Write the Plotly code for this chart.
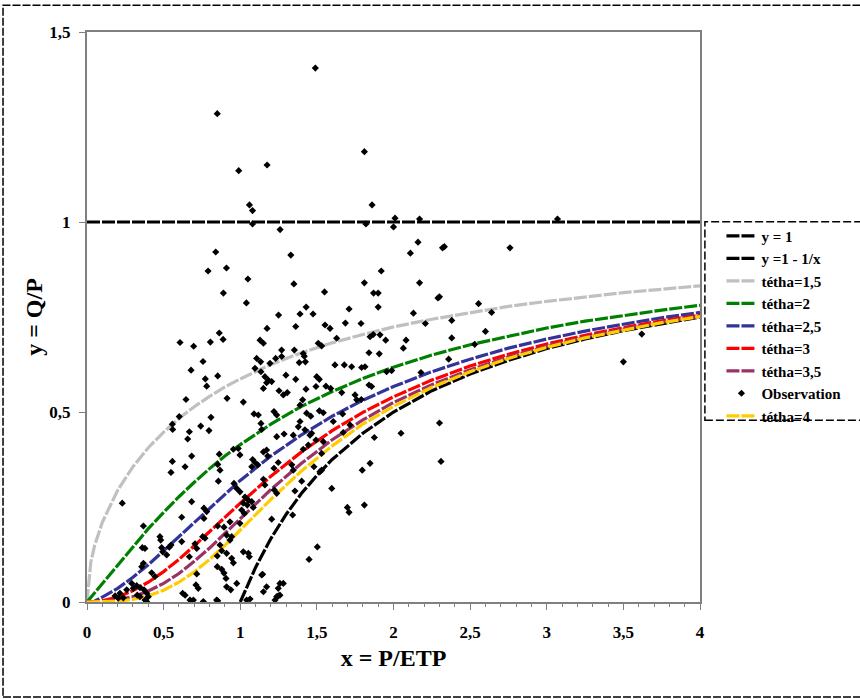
import plotly.graph_objects as go

# ---- curve data ----
x_theta = [0, 0.025, 0.05, 0.1, 0.2, 0.3, 0.4, 0.5, 0.6, 0.7, 0.8, 0.9, 1.0, 1.2, 1.4, 1.6, 1.8, 2.0,
           2.25, 2.5, 2.75, 3.0, 3.25, 3.5, 3.75, 4.0]
y_t15 = [0, 0.105, 0.149, 0.210, 0.294, 0.356, 0.406, 0.447, 0.483, 0.514, 0.541, 0.566, 0.587, 0.625,
         0.656, 0.682, 0.704, 0.724, 0.744, 0.762, 0.778, 0.791, 0.803, 0.814, 0.823, 0.832]
y_t2 = [0, 0.012, 0.025, 0.050, 0.099, 0.147, 0.193, 0.236, 0.277, 0.315, 0.351, 0.384, 0.414, 0.468,
        0.515, 0.554, 0.588, 0.618, 0.650, 0.677, 0.700, 0.721, 0.739, 0.754, 0.768, 0.781]
y_t25 = [0, 0.001, 0.002, 0.013, 0.036, 0.065, 0.098, 0.135, 0.172, 0.211, 0.248, 0.285, 0.320, 0.384,
         0.440, 0.489, 0.531, 0.567, 0.606, 0.639, 0.668, 0.692, 0.713, 0.731, 0.748, 0.762]
y_t3 = [0, 0.000, 0.001, 0.003, 0.013, 0.030, 0.052, 0.080, 0.112, 0.148, 0.185, 0.223, 0.260, 0.331,
        0.395, 0.451, 0.499, 0.540, 0.584, 0.621, 0.652, 0.679, 0.702, 0.722, 0.740, 0.755]
y_t35 = [0, 0.000, 0.000, 0.001, 0.005, 0.014, 0.029, 0.049, 0.075, 0.107, 0.142, 0.180, 0.219, 0.296,
         0.365, 0.427, 0.479, 0.525, 0.572, 0.611, 0.645, 0.673, 0.697, 0.718, 0.736, 0.752]
y_t4 = [0, 0.000, 0.000, 0.000, 0.002, 0.007, 0.016, 0.031, 0.052, 0.079, 0.112, 0.149, 0.189, 0.270,
        0.345, 0.411, 0.468, 0.515, 0.565, 0.606, 0.641, 0.670, 0.695, 0.716, 0.735, 0.751]

x_lim = [1.0, 1.1, 1.2, 1.3, 1.4, 1.5, 1.6, 1.8, 2.0, 2.25, 2.5, 2.75, 3.0, 3.25, 3.5, 3.75, 4.0]
y_lim = [0.0, 0.091, 0.167, 0.231, 0.286, 0.333, 0.375, 0.444, 0.5, 0.556, 0.6, 0.636, 0.667, 0.692,
         0.714, 0.733, 0.75]

x_one = [0, 4]
y_one = [1, 1]

obs_x = [0.85, 1.49, 0.99, 1.175, 1.81, 1.06, 1.08, 1.86, 2.01, 2.17, 1.08, 1.82, 1.26, 2.0, 2.16, 0.84,
         0.79, 0.91, 1.33, 2.11, 1.92, 1.05, 1.35, 1.81, 2.17, 0.89, 1.55, 1.87, 1.9, 2.3, 1.04, 1.43,
         1.71, 1.9, 1.25, 1.39, 1.475, 2.13,
         3.07, 2.32, 2.76, 2.29, 2.555, 2.64, 2.38, 2.38, 2.6, 2.53, 2.36, 3.62, 3.5, 2.3, 2.31,
         1.175, 0.607, 0.696, 0.805, 0.863, 0.888, 1.129, 1.151, 1.27, 0.757, 0.679, 1.107, 1.133, 1.231,
         1.27, 1.194, 1.096, 1.135, 1.161, 1.183, 1.205, 1.172, 1.298, 0.772, 0.853, 0.781, 1.151, 1.253,
         1.281, 1.307, 0.646, 0.914, 1.02, 0.602, 0.809, 1.09, 1.118, 1.22, 1.238,
         2.332, 1.686, 2.208, 1.362, 1.553, 1.586, 1.788, 1.847, 1.868, 1.912, 1.949, 1.629, 1.509, 1.531,
         2.082, 2.064, 1.353, 1.411, 1.418, 1.84, 1.907, 1.385, 1.425, 1.618, 1.679, 1.727, 1.792, 1.814,
         1.955, 1.988, 1.362, 1.499, 1.516, 2.179, 1.429, 1.494, 1.559, 1.59, 1.662, 1.84, 1.857, 1.407,
         1.39, 1.749, 1.76, 1.79, 1.516, 1.542, 1.433, 1.46, 1.668,
         0.557, 0.742, 0.796, 0.668, 0.559, 1.135, 1.14, 1.238, 1.286, 0.657, 0.955, 0.987, 0.998, 0.863,
         0.683, 1.172, 1.151, 1.179, 0.557, 0.548, 0.853, 0.868, 1.081, 1.096, 1.114, 1.075, 1.22, 1.248,
         0.857, 0.959, 0.977, 0.998, 1.151, 1.161, 1.222, 1.238, 1.031, 1.053, 1.02, 1.046, 1.075, 1.085,
         1.009, 1.027, 0.683, 0.763, 0.781, 0.763, 0.618, 0.368, 0.853, 0.894, 0.933, 0.998, 1.205, 0.476,
         0.481, 0.618, 0.755, 0.77, 0.911, 0.944, 0.933, 0.361, 0.378, 0.487, 0.494, 0.537, 0.548, 0.705,
         0.716, 0.868, 0.879, 0.85, 0.911, 0.668, 0.52, 0.944, 0.955, 1.02, 1.053, 1.059, 0.368, 0.357,
         0.422, 0.444, 0.716, 0.85, 0.879, 0.894, 0.907, 1.146, 1.281, 1.248, 0.292, 0.302, 0.324, 0.346,
         0.372, 0.39, 0.379, 0.328, 0.624, 0.64, 0.711, 0.726, 0.683, 0.694, 0.853, 0.938, 1.151, 1.172,
         1.227, 1.238, 0.759,
         0.23, 0.259, 0.215, 0.183, 0.204, 0.237, 0.346, 0.389, 0.4, 0.672, 0.846, 0.911, 0.977, 1.042,
         1.064, 1.14, 1.259, 1.248, 1.259, 0.64,
         2.049, 1.875, 1.847, 1.796, 1.597, 1.81, 1.699, 1.71, 1.342, 1.357, 1.401, 1.52, 1.531, 1.481,
         1.336, 1.346, 1.531, 1.542, 1.411, 1.444, 1.455, 1.494, 1.346, 1.379, 1.422, 1.466, 1.39, 1.607,
         1.672, 1.716, 1.503, 1.449]
obs_y = [1.285, 1.405, 1.135, 1.15, 1.185, 1.045, 1.03, 1.045, 1.01, 1.008, 0.995, 0.995, 0.98, 0.987,
         0.947, 0.921, 0.871, 0.879, 0.913, 0.918, 0.871, 0.85, 0.837, 0.84, 0.84, 0.813, 0.816, 0.813,
         0.813, 0.803, 0.787, 0.776, 0.771, 0.776, 0.755, 0.758, 0.758, 0.76,
         1.008, 0.932, 0.932, 0.80, 0.785, 0.762, 0.741, 0.695, 0.712, 0.678, 0.639, 0.705, 0.632, 0.471,
         0.37,
         0.72, 0.683, 0.673, 0.684, 0.708, 0.691, 0.689, 0.681, 0.663, 0.633, 0.61, 0.641, 0.632, 0.641,
         0.646, 0.628, 0.615, 0.606, 0.593, 0.584, 0.58, 0.577, 0.597, 0.587, 0.595, 0.568, 0.562, 0.556,
         0.545, 0.551, 0.533, 0.536, 0.526, 0.488, 0.486, 0.495, 0.492, 0.501, 0.492,
         0.935, 0.734, 0.733, 0.725, 0.729, 0.72, 0.733, 0.698, 0.704, 0.703, 0.689, 0.694, 0.681, 0.674,
         0.689, 0.668, 0.663, 0.654, 0.647, 0.656, 0.653, 0.63, 0.632, 0.624, 0.624, 0.619, 0.617, 0.619,
         0.606, 0.609, 0.586, 0.593, 0.586, 0.604, 0.56, 0.567, 0.568, 0.562, 0.551, 0.571, 0.567, 0.532,
         0.518, 0.545, 0.532, 0.533, 0.503, 0.498, 0.497, 0.489, 0.495,
         0.468, 0.463, 0.451, 0.448, 0.454, 0.47, 0.454, 0.435, 0.442, 0.429, 0.402, 0.404, 0.387, 0.389,
         0.384, 0.4, 0.395, 0.384, 0.37, 0.341, 0.362, 0.347, 0.375, 0.367, 0.361, 0.356, 0.352, 0.367,
         0.318, 0.312, 0.299, 0.29, 0.323, 0.308, 0.295, 0.286, 0.276, 0.268, 0.26, 0.255, 0.264, 0.249,
         0.242, 0.233, 0.264, 0.247, 0.238, 0.22, 0.223, 0.2, 0.2, 0.197, 0.211, 0.207, 0.218, 0.172,
         0.163, 0.159, 0.172, 0.168, 0.176, 0.172, 0.163, 0.143, 0.141, 0.143, 0.132, 0.144, 0.15, 0.153,
         0.141, 0.15, 0.135, 0.121, 0.128, 0.119, 0.124, 0.115, 0.103, 0.132, 0.128, 0.119, 0.102, 0.093,
         0.077, 0.067, 0.074, 0.093, 0.086, 0.076, 0.062, 0.073, 0.049, 0.036, 0.049, 0.036, 0.043, 0.038,
         0.032, 0.023, 0.005, 0.018, 0.023, 0.018, 0.045, 0.036, 0.001, 0.005, 0.003, 0.032, 0.027, 0.04,
         0.005, 0.014, 0.001,
         0.26, 0.032, 0.023, 0.016, 0.01, 0.011, 0.014, 0.001, 0.014, 0.005, 0.005, 0.04, 0.049, 0.005,
         0.008, 0.071, 0.049, 0.016, 0.018, 0.356,
         0.444, 0.433, 0.365, 0.347, 0.299, 0.255, 0.249, 0.236, 0.229, 0.292, 0.318, 0.343, 0.347, 0.356,
         0.361, 0.347, 0.391, 0.422, 0.402, 0.413, 0.439, 0.426, 0.439, 0.461, 0.453, 0.444, 0.475, 0.475,
         0.446, 0.466, 0.145, 0.112]

x_ticks = [0, 0.5, 1, 1.5, 2, 2.5, 3, 3.5, 4]
x_tick_text = ["0", "0,5", "1", "1,5", "2", "2,5", "3", "3,5", "4"]
y_ticks = [0, 0.5, 1, 1.5]
y_tick_text = ["0", "0,5", "1", "1,5"]

SERIF = "Liberation Serif, Times New Roman, serif"
DASH = "13px,2px"
LW = 3.2

fig = go.Figure()


def line(x, y, name, color, rank):
    fig.add_trace(go.Scatter(x=x, y=y, mode="lines", name=name, legendrank=rank,
                             line=dict(color=color, width=LW, dash=DASH)))


line(x_one, y_one, "y = 1", "#000000", 1)
line(x_lim, y_lim, "y =1 - 1/x", "#000000", 2)
line(x_theta, y_t15, "tétha=1,5", "#C0C0C0", 3)
line(x_theta, y_t2, "tétha=2", "#008000", 4)
line(x_theta, y_t25, "tétha=2,5", "#333399", 5)
line(x_theta, y_t3, "tétha=3", "#FF0000", 6)
line(x_theta, y_t35, "tétha=3,5", "#993366", 7)
line(x_theta, y_t4, "tétha=4", "#FFCC00", 9)
fig.add_trace(go.Scatter(x=obs_x, y=obs_y, mode="markers", name="Observation", legendrank=8,
                         marker=dict(symbol="diamond", size=5.5, color="#000000")))

axis_common = dict(showgrid=False, zeroline=False, showline=True, linecolor="#808080", linewidth=2,
                   mirror=True, ticks="outside", tickcolor="#808080", ticklen=6, tickwidth=1,
                   tickfont=dict(family=SERIF, size=17, color="#000000", weight="bold"))

fig.update_xaxes(range=[0, 4], tickvals=x_ticks, ticktext=x_tick_text, ticklabelstandoff=8,
                 minor=dict(dtick=0.1, ticks="outside", ticklen=3, tickcolor="#808080"),
                 title=dict(text="x = P/ETP", font=dict(family=SERIF, size=24, color="#000000",
                                                        weight="bold"), standoff=8),
                 **axis_common)
fig.update_yaxes(range=[0, 1.5], tickvals=y_ticks, ticktext=y_tick_text, ticklabelstandoff=5,
                 title=dict(text="y = Q/P", font=dict(family=SERIF, size=24, color="#000000",
                                                      weight="bold"), standoff=0),
                 **axis_common)

fig.update_layout(
    width=860, height=699, autosize=False,
    margin=dict(l=87, r=160, t=32, b=97, autoexpand=False),
    paper_bgcolor="white", plot_bgcolor="white",
    showlegend=True,
    legend=dict(x=1.035, y=0.671, xanchor="left", yanchor="top", bgcolor="rgba(0,0,0,0)",
                borderwidth=0, tracegroupgap=0,
                font=dict(family=SERIF, size=15, color="#000000", weight="bold")),
    shapes=[
        dict(type="rect", xref="paper", yref="paper", x0=-0.137, x1=1.45, y0=-0.1667, y1=1.047,
             line=dict(color="#000000", width=1.5, dash="8px,2px"), fillcolor="rgba(0,0,0,0)"),
        dict(type="rect", xref="paper", yref="paper", x0=1.008, x1=1.45, y0=0.319, y1=0.667,
             line=dict(color="#000000", width=1.5, dash="8px,3px"), fillcolor="rgba(0,0,0,0)"),
    ],
)

fig.write_html("out.html", config={"displayModeBar": False},
               post_script="document.body.style.margin='0px';")
